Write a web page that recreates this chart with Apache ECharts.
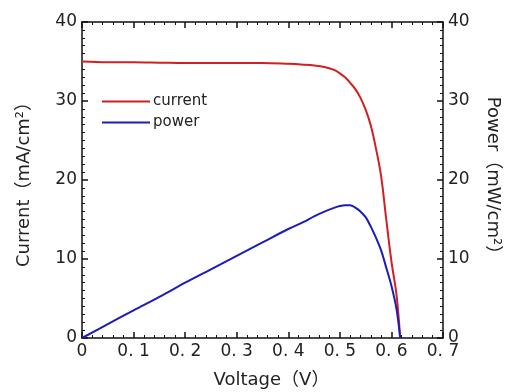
<!DOCTYPE html>
<html>
<head>
<meta charset="utf-8">
<script src="https://cdn.jsdelivr.net/npm/echarts@6/dist/echarts.min.js"></script>
<style>
html, body { margin: 0; padding: 0; background: #fff; }
#chart { width: 509px; height: 392px; }
</style>
</head>
<body>
<div id="chart"></div>
<script>
// voltage samples (V)
const voltage = [0, 0.05, 0.1, 0.15, 0.2, 0.25, 0.3, 0.35, 0.4, 0.43, 0.45, 0.47, 0.49, 0.5, 0.51, 0.52, 0.53, 0.54, 0.55, 0.56, 0.57, 0.58, 0.59, 0.6, 0.61, 0.617]
// current density (mA/cm2)
const current = [35.0, 34.9, 34.9, 34.85, 34.8, 34.8, 34.8, 34.8, 34.7, 34.6, 34.5, 34.3, 33.9, 33.5, 33.0, 32.3, 31.5, 30.4, 28.9, 26.9, 24.0, 20.5, 15.0, 9.7, 5.4, 0]
// power density (mW/cm2)
const power = [0, 1.75, 3.5, 5.2, 7.0, 8.7, 10.4, 12.1, 13.8, 14.7, 15.4, 16.0, 16.5, 16.7, 16.8, 16.8, 16.5, 16.0, 15.3, 14.1, 12.7, 11.1, 8.9, 6.6, 3.6, 0]
// tick labels
const xTickLabels = ['0', '0. 1', '0. 2', '0. 3', '0. 4', '0. 5', '0. 6', '0. 7']
const yTickLabels = ['0', '10', '20', '30', '40']

const chart = echarts.init(document.getElementById('chart'))

const numFont = { fontFamily: 'DejaVu Sans', fontSize: 17, color: '#222' }
const nameFont = { fontFamily: 'DejaVu Sans, Noto Sans CJK JP', fontSize: 18, color: '#222' }
const lineStyleAxis = { color: '#111', width: 1.5 }

const xBase = {
    type: 'value',
    min: 0,
    max: 0.7,
    interval: 0.1,
    axisLine: { show: true, onZero: false, lineStyle: lineStyleAxis },
    axisTick: { show: true, inside: true, length: 6, lineStyle: lineStyleAxis },
    minorTick: { show: true, splitNumber: 5, length: 3, lineStyle: { color: '#111', width: 1 } },
    splitLine: { show: false }
}
const yBase = {
    type: 'value',
    min: 0,
    max: 40,
    interval: 10,
    axisLine: { show: true, onZero: false, lineStyle: lineStyleAxis },
    axisTick: { show: true, inside: true, length: 6, lineStyle: lineStyleAxis },
    minorTick: { show: true, splitNumber: 10, length: 3, lineStyle: { color: '#111', width: 1 } },
    splitLine: { show: false },
    axisLabel: Object.assign({ margin: 5, formatter: v => yTickLabels[Math.round(v / 10)] }, numFont),
    nameLocation: 'middle',
    nameTextStyle: nameFont
}

const option = {
    animation: false,
    backgroundColor: '#fff',
    grid: { left: 82, right: 66, top: 22, bottom: 54, outerBoundsMode: 'none' },
    legend: {
        orient: 'vertical',
        left: 102,
        top: 94,
        padding: 0,
        itemWidth: 48,
        itemHeight: 2,
        itemGap: 6,
        icon: 'rect',
        textStyle: { fontFamily: 'DejaVu Sans', fontSize: 15, color: '#222', padding: [0, 0, 0, -2] },
        data: ['current', 'power']
    },
    xAxis: [
        Object.assign({}, xBase, {
            position: 'bottom',
            name: 'Voltage（V）',
            nameLocation: 'middle',
            nameGap: 33,
            nameTextStyle: Object.assign({ padding: [0, 0, 0, 18] }, nameFont),
            axisLabel: Object.assign({ margin: 5, formatter: v => xTickLabels[Math.round(v * 10)] }, numFont)
        }),
        Object.assign({}, xBase, {
            position: 'top',
            axisLabel: { show: false }
        })
    ],
    yAxis: [
        Object.assign({}, yBase, {
            position: 'left',
            name: 'Current（mA/cm²）',
            nameGap: 49
        }),
        Object.assign({}, yBase, {
            position: 'right',
            name: 'Power（mW/cm²）',
            nameGap: 41,
            nameRotate: -90
        })
    ],
    series: [
        {
            name: 'current',
            type: 'line',
            xAxisIndex: 0,
            yAxisIndex: 0,
            smooth: 0.35,
            showSymbol: false,
            symbol: 'none',
            color: '#d21f1f',
            lineStyle: { width: 2, color: '#d21f1f' },
            data: voltage.map((v, i) => [v, current[i]])
        },
        {
            name: 'power',
            type: 'line',
            xAxisIndex: 0,
            yAxisIndex: 1,
            smooth: 0.35,
            showSymbol: false,
            symbol: 'none',
            color: '#1c1cb8',
            lineStyle: { width: 2, color: '#1c1cb8' },
            data: voltage.map((v, i) => [v, power[i]])
        }
    ]
}

chart.setOption(option)
</script>
</body>
</html>
